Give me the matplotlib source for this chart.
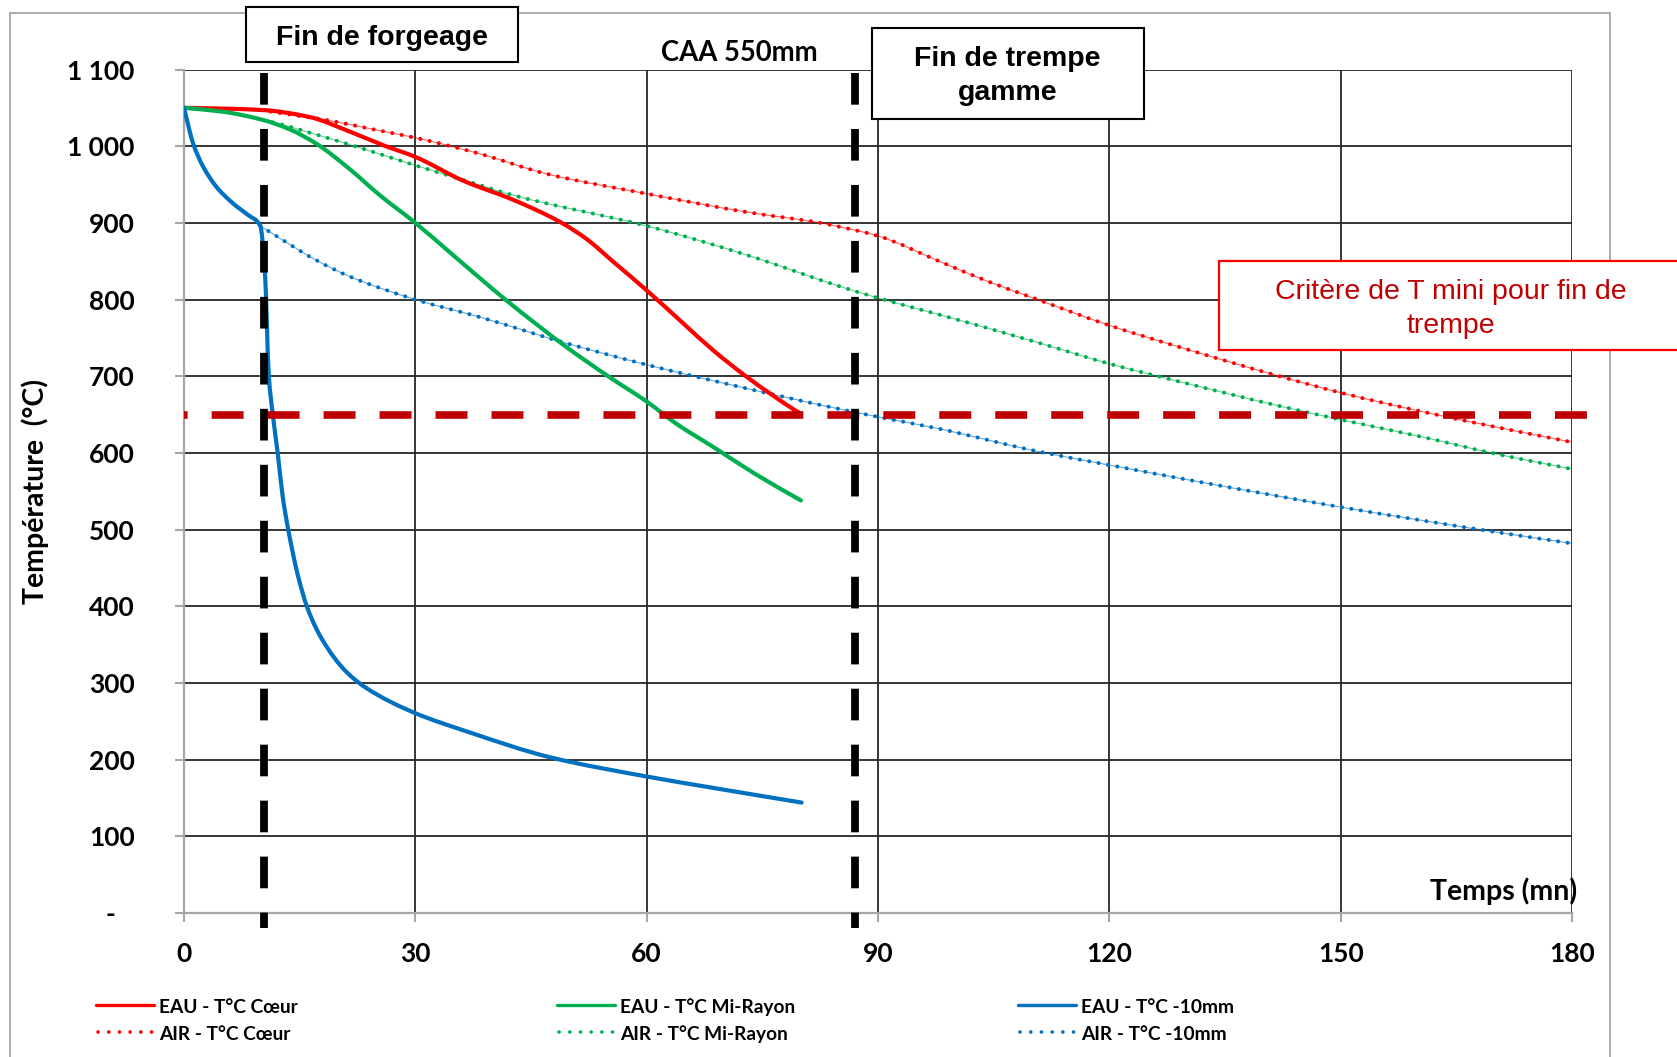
import matplotlib
matplotlib.use("Agg")
import matplotlib.pyplot as plt
import numpy as np
from matplotlib.patches import Rectangle, PathPatch
from matplotlib.path import Path
from matplotlib.lines import Line2D

# ---------------------------------------------------------------- data
# Temps (mn) / Température (°C) - trempe EAU
t_eau_coeur = [0, 5, 10.4, 16.3, 21.5, 25.9, 30, 36.2, 42.7, 48.8, 52.2, 55.7,
               60, 64.3, 68.6, 73, 79.5, 80]
T_eau_coeur = [1050, 1049, 1047, 1038, 1019, 1001, 986, 955, 930, 901, 879, 849,
               812, 773, 734, 699, 654, 651]

t_eau_mi = [0, 5, 10.3, 13.7, 17.2, 21.5, 25.4, 30, 35, 41.8, 49.6, 55, 60,
            64, 68.6, 74, 80]
T_eau_mi = [1050, 1045, 1034, 1022, 1003, 970, 936, 900, 857, 799, 738, 700, 667,
            637, 608, 573, 538]

t_eau_10 = [0, 1.2, 2.5, 4.2, 6.4, 8.2, 9.9, 10.5, 11.0, 11.5, 12.15, 12.8, 13.5,
            14.7, 16.0, 17.9, 21.0, 23.7, 29.9, 36.9, 47.5, 60, 68.7, 80.1]
T_eau_10 = [1050, 1003, 973, 947, 925, 911, 896, 834, 700, 651, 600, 543, 501,
            443, 398, 357, 315, 293, 261, 236, 203, 178, 163, 144]

# Temps (mn) / Température (°C) - refroidissement AIR
t_air_coeur = [10, 14.6, 18.5, 25, 30, 38.4, 47, 60, 73, 82.5, 87.2, 90, 97.7,
               103.9, 110.7, 120.1, 129.1, 141.7, 150.2, 160.5, 170, 180]
T_air_coeur = [1047, 1040, 1034, 1021, 1011, 990, 964, 938, 914, 900, 890, 883, 851,
               825, 800, 766, 738, 701, 678, 654, 634, 614]

t_air_mi = [10.3, 12, 17.2, 21.5, 25, 30, 36.2, 42.7, 60, 73, 85.1, 90, 97.7,
            110.7, 120.1, 129.1, 141.7, 150.2, 160.5, 170, 180]
T_air_mi = [1034, 1030, 1015, 1002, 991, 975, 956, 936, 896, 858, 817, 802, 781,
            744, 716, 693, 662, 643, 621, 599, 579]

t_air_10 = [9.9, 12.9, 17.2, 21.5, 30, 38.4, 49.6, 60, 73, 85.1, 90, 97.7, 110.7,
            120.1, 129.1, 141.7, 150.2, 160.5, 170, 180]
T_air_10 = [896, 877, 851, 830, 800, 777, 743, 715, 684, 657, 647, 632, 602,
            584, 567, 544, 529, 512, 497, 482]

# repères
fin_forgeage = 10.4      # mn
fin_trempe = 87.0        # mn
T_critere = 650          # °C

x_ticks = [0, 30, 60, 90, 120, 150, 180]
y_ticks = [0, 100, 200, 300, 400, 500, 600, 700, 800, 900, 1000, 1100]
y_tick_labels = ["-   ", "100", "200", "300", "400", "500", "600", "700",
                 "800", "900", "1 000", "1 100"]

labels = ["EAU - T°C Cœur", "AIR - T°C Cœur",
          "EAU - T°C Mi-Rayon", "AIR - T°C Mi-Rayon",
          "EAU - T°C -10mm", "AIR - T°C -10mm"]

RED, GREEN, BLUE, DARKRED = "#FF0000", "#00B050", "#0070C0", "#C00000"

# ---------------------------------------------------------------- figure
W, H, DPI = 1677, 1057, 100
plt.rcParams["lines.scale_dashes"] = False
plt.rcParams["font.family"] = ["Lato", "DejaVu Sans"]
ARIAL = ["Liberation Sans", "DejaVu Sans"]


def fx(px):
    return px / W


def fy(py):
    return 1 - py / H


def smooth_path(t, T):
    """Monotone cubic (Fritsch-Carlson) Bezier path through the points."""
    t = np.asarray(t, float)
    T = np.asarray(T, float)
    h = np.diff(t)
    d = np.diff(T) / h
    m = np.zeros_like(T)
    m[0], m[-1] = d[0], d[-1]
    for i in range(1, len(T) - 1):
        if d[i - 1] * d[i] <= 0:
            m[i] = 0.0
        else:
            w1 = 2 * h[i] + h[i - 1]
            w2 = h[i] + 2 * h[i - 1]
            m[i] = (w1 + w2) / (w1 / d[i - 1] + w2 / d[i])
    verts = [(t[0], T[0])]
    codes = [Path.MOVETO]
    for i in range(len(t) - 1):
        verts += [(t[i] + h[i] / 3, T[i] + m[i] * h[i] / 3),
                  (t[i + 1] - h[i] / 3, T[i + 1] - m[i + 1] * h[i] / 3),
                  (t[i + 1], T[i + 1])]
        codes += [Path.CURVE4] * 3
    return Path(verts, codes)


fig = plt.figure(figsize=(W / DPI, H / DPI), dpi=DPI)
fig.patch.set_facecolor("white")

# chart-area frame
fig.patches.append(Rectangle((fx(9.5), fy(1080)), fx(1610) - fx(9.5), fy(13.5) - fy(1080),
                             transform=fig.transFigure, fc="none", ec="#a6a6a6",
                             lw=1.3, zorder=-1))

ax = fig.add_axes([fx(184), fy(913), fx(1572) - fx(184), fy(69.5) - fy(913)])
ax.set_xlim(0, 180)
ax.set_ylim(0, 1100)
ax.set_xticks(x_ticks)
ax.set_yticks(y_ticks)
ax.set_yticklabels(y_tick_labels)
ax.grid(True, color="#262626", lw=1.3)
ax.set_axisbelow(True)
for s in ["top", "right"]:
    ax.spines[s].set_visible(False)
for s in ["left", "bottom"]:
    ax.spines[s].set_color("#a6a6a6")
    ax.spines[s].set_linewidth(1.6)
    ax.spines[s].set_zorder(2.6)
ax.tick_params(direction="out", length=6.5, width=1.5, color="#a6a6a6",
               labelsize=19)
ax.tick_params(axis="y", pad=29)
ax.tick_params(axis="x", pad=14.5)
for lab in ax.get_xticklabels() + ax.get_yticklabels():
    lab.set_fontweight("bold")


def air_line(t, T, c):
    p = smooth_path(t, T)
    ax.add_patch(PathPatch(p, fill=False, ec=c, lw=0.8, alpha=0.6, zorder=3))
    pp = PathPatch(p, fill=False, ec=c, lw=2.9, linestyle=(0, (0.1, 6.75)),
                   capstyle="round", zorder=3)
    ax.add_patch(pp)
    return c


def eau_line(t, T, c):
    pp = PathPatch(smooth_path(t, T), fill=False, ec=c, lw=3.0,
                   capstyle="round", joinstyle="round", zorder=3.5)
    ax.add_patch(pp)
    return c


c_air_c = air_line(t_air_coeur, T_air_coeur, RED)
c_air_m = air_line(t_air_mi, T_air_mi, GREEN)
c_air_10 = air_line(t_air_10, T_air_10, BLUE)
c_eau_c = eau_line(t_eau_coeur, T_eau_coeur, RED)
c_eau_m = eau_line(t_eau_mi, T_eau_mi, GREEN)
c_eau_10 = eau_line(t_eau_10, T_eau_10, BLUE)

# critère de température minimale
ax.plot([0, 182.1], [T_critere, T_critere], color=DARKRED, lw=5.5,
        linestyle=(20.4, (23.0, 17.3)), dash_capstyle="butt", clip_on=False, zorder=4)

# fin de forgeage / fin de trempe
for tv in (fin_forgeage, fin_trempe):
    ax.plot([tv, tv], [1095, -20], color="black", lw=5.6,
            linestyle=(0, (22.8, 17.5)), dash_capstyle="butt", clip_on=False, zorder=5)

# ---------------------------------------------------------------- annotations
def boxed(x0, y0, x1, y1, ec, lw):
    fig.patches.append(Rectangle((fx(x0), fy(y1)), fx(x1) - fx(x0), fy(y0) - fy(y1),
                                 transform=fig.transFigure, fc="white", ec=ec,
                                 lw=lw, zorder=2))


boxed(246, 7, 518, 62, "black", 1.5)
fig.text(fx(381.6), fy(45), "Fin de forgeage", ha="center", va="baseline",
         family=ARIAL, weight="bold", size=20.5, zorder=3)

boxed(872, 28, 1144, 119, "black", 1.5)
fig.text(fx(1007.6), fy(65.7), "Fin de trempe", ha="center", va="baseline",
         family=ARIAL, weight="bold", size=20.5, zorder=3)
fig.text(fx(1007.6), fy(100), "gamme", ha="center", va="baseline",
         family=ARIAL, weight="bold", size=20.5, zorder=3)

boxed(1219, 261, 1700, 350, RED, 1.6)
fig.text(fx(1451), fy(299.5), "Critère de T mini pour fin de", ha="center",
         va="baseline", family=ARIAL, size=20.5, color=DARKRED, zorder=3)
fig.text(fx(1451), fy(333), "trempe", ha="center", va="baseline",
         family=ARIAL, size=20.5, color=DARKRED, zorder=3)

fig.text(fx(739.6), fy(61), "CAA 550mm", ha="center", va="baseline",
         weight="bold", size=19.8)
fig.text(fx(1576.7), fy(900), "Temps (mn)", ha="right", va="baseline",
         weight="bold", size=20.5, zorder=3)
fig.text(fx(35), fy(491), "Température  (°C)", ha="center", va="center",
         rotation=90, weight="bold", size=20.5)

# ---------------------------------------------------------------- legend
handle_colors = [c_eau_c, c_air_c, c_eau_m, c_air_m, c_eau_10, c_air_10]
col_x = [96, 557, 1018]
row_y = [1005, 1031.7]
for i, (c, lab) in enumerate(zip(handle_colors, labels)):
    col, row = divmod(i, 2)
    x0 = col_x[col]
    y = row_y[row]
    if row == 0:
        fig.add_artist(Line2D([fx(x0), fx(x0 + 58)], [fy(y), fy(y)],
                              transform=fig.transFigure, color=c,
                              lw=2.4, solid_capstyle="round"))
    else:
        fig.add_artist(Line2D([fx(x0 + 2), fx(x0 + 56)], [fy(y), fy(y)],
                              transform=fig.transFigure, color=c,
                              lw=2.6, linestyle=(0, (0.1, 7.6)),
                              dash_capstyle="round"))
    fig.text(fx(x0 + 63), fy(y + 8.3), lab, ha="left", va="baseline",
             weight="bold", size=13.8)

fig.savefig("out.png", dpi=DPI, facecolor="white")
